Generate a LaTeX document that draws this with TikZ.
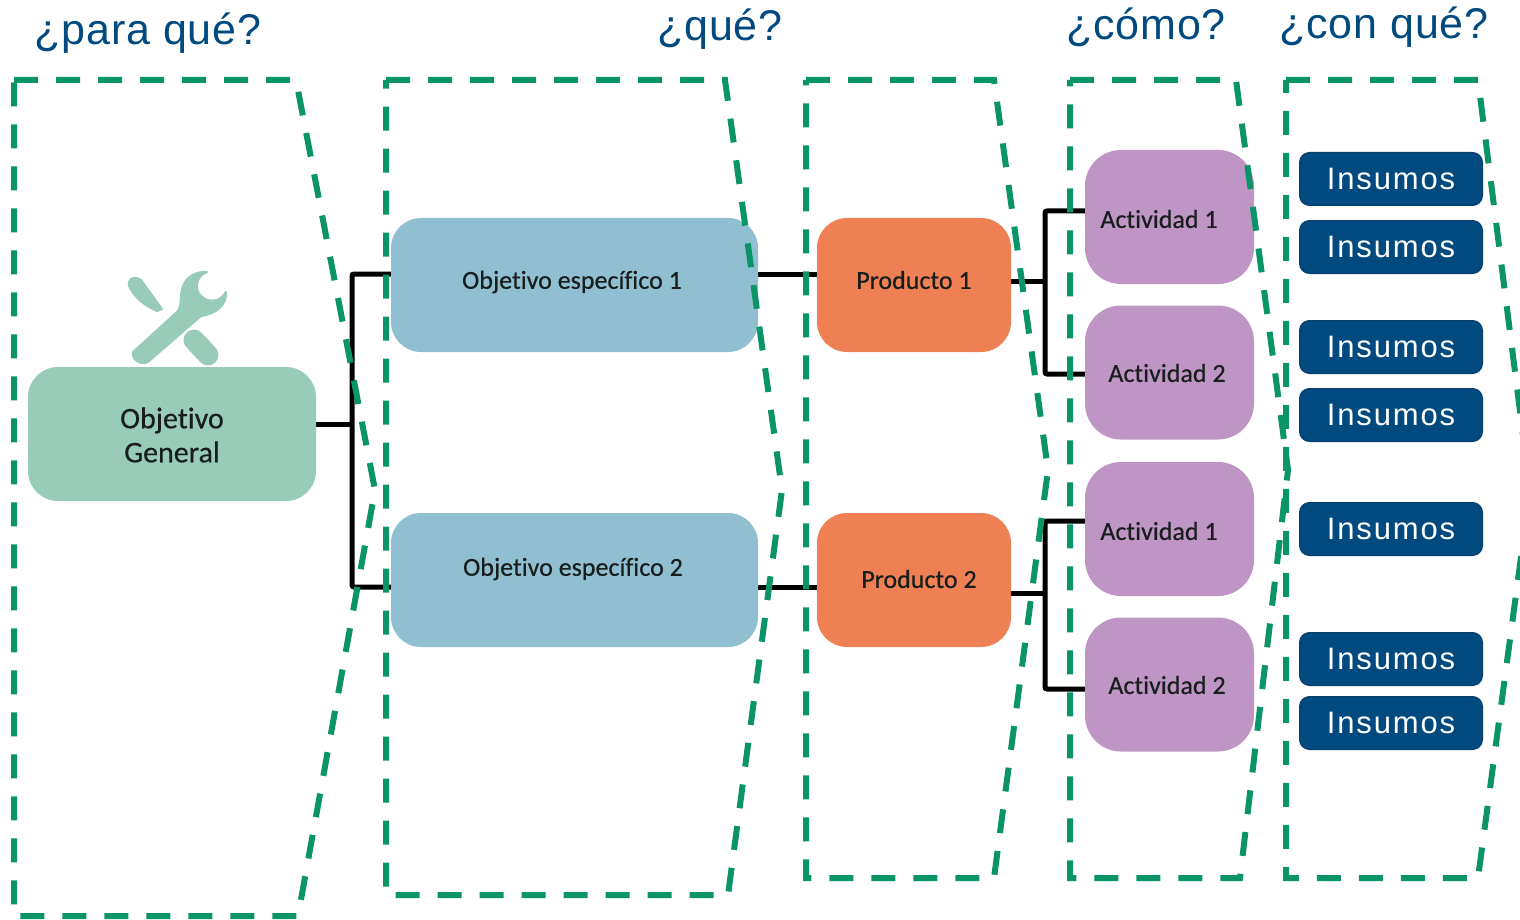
\documentclass[tikz,border=0pt]{standalone}
\usepackage{fontspec}
\setmainfont[Ligatures=NoCommon,FakeBold=0.4]{Carlito}
\newfontfamily\headfont[LetterSpace=2]{Liberation Sans}
\newfontfamily\insfont[LetterSpace=6]{Liberation Sans}
\pgfdeclarelayer{linklayer}
\pgfsetlayers{linklayer,main}
\definecolor{dashgreen}{HTML}{0B9468}
\definecolor{headblue}{HTML}{004A80}
\definecolor{gencol}{HTML}{99CBB9}
\definecolor{objcol}{HTML}{90BFD2}
\definecolor{prodcol}{HTML}{EF8053}
\definecolor{actcol}{HTML}{BF95C5}
\definecolor{inscol}{HTML}{004A80}
\definecolor{insedge}{HTML}{0A3F6B}
\tikzset{
  x=1pt,y=-1pt,
  pane/.style={draw=dashgreen,line width=6pt,dash pattern=on 24pt off 18pt},
  link/.style={draw=black,line width=5pt,rounded corners=2pt},
  nodebox/.style={rectangle,inner sep=0pt,outer sep=0pt},
  genbox/.style={nodebox,fill=gencol,rounded corners=30pt,minimum width=288pt,minimum height=134pt},
  objbox/.style={nodebox,fill=objcol,rounded corners=30pt,minimum width=367pt,minimum height=134pt},
  prodbox/.style={nodebox,fill=prodcol,rounded corners=30pt,minimum width=194pt,minimum height=134pt},
  actbox/.style={nodebox,fill=actcol,rounded corners=36pt,minimum width=169pt,minimum height=134pt},
  insbox/.style={nodebox,fill=inscol,draw=insedge,line width=1pt,rounded corners=10pt,minimum width=183pt,minimum height=53pt,
     text=white,font=\fontsize{31}{36}\selectfont\insfont},
  label/.style={inner sep=0pt,font=\fontsize{26}{34}\selectfont,text=black!85!gencol,align=center},
  head/.style={inner sep=0pt,text=headblue,font=\fontsize{43}{48}\selectfont\headfont},
  tool/.style={fill=gencol,draw=gencol,line width=2pt,line join=round}
}
\begin{document}
\begin{tikzpicture}
\useasboundingbox (0,0) rectangle (1520,920);
% tools icon
\draw[tool] (131,279) .. controls (134,277) and (139,278) .. (141,280) -- (162,309) -- (157,311) .. controls (145,306) and (134,297) .. (129,286) .. controls (128,283) and (129,281) .. (131,279) -- cycle;
\draw[tool] (207,272) .. controls (200,274) and (196,281) .. (197,289) .. controls (199,299) and (216,308) .. (226,292)
  .. controls (227,304) and (217,314) .. (201,316) -- (148,362) .. controls (142,366) and (131,360) .. (133,352) -- (177,312)
  .. controls (182,306) and (180,298) .. (182,289) .. controls (185,277) and (196,271) .. (207,272) -- cycle;
\draw[gencol,line width=21pt,line cap=round] (194,340) -- (208,355);
% nodes
\node[genbox] (gen) at (172,434) {};
\node[objbox] (ob1) at (574.5,285) {};
\node[objbox] (ob2) at (574.5,580) {};
\node[prodbox] (pr1) at (914,285) {};
\node[prodbox] (pr2) at (914,580) {};
\node[actbox] (ac1) at (1169.5,217) {};
\node[actbox] (ac2) at (1169.5,372.5) {};
\node[actbox] (ac3) at (1169.5,529) {};
\node[actbox] (ac4) at (1169.5,684.5) {};
% connectors
\coordinate (j1) at (352,424);
\coordinate (j1t) at (352,274);
\coordinate (j1b) at (352,587);
\coordinate (j2) at (1045,281);
\coordinate (j2t) at (1045,211);
\coordinate (j2b) at (1045,374);
\coordinate (j3) at (1045,593);
\coordinate (j3t) at (1045,521);
\coordinate (j3b) at (1045,689);
\begin{pgfonlayer}{linklayer}
\draw[link] (gen.east |- j1) -- (j1);
\draw[link] (ob1.west |- j1t) -- (j1t) -- (j1b) -- (ob2.west |- j1b);
\draw[link] (ob1.east |- j1t) -- (pr1.west |- j1t);
\draw[link] (ob2.east |- j1b) -- (pr2.west |- j1b);
\draw[link] (pr1.east |- j2) -- (j2);
\draw[link] (ac1.west |- j2t) -- (j2t) -- (j2b) -- (ac2.west |- j2b);
\draw[link] (pr2.east |- j3) -- (j3);
\draw[link] (ac3.west |- j3t) -- (j3t) -- (j3b) -- (ac4.west |- j3b);
\end{pgfonlayer}
% labels
\node[label,font=\fontsize{30}{34}\selectfont] (t0) at (172,435) {Objetivo\\General};
\node[label] (t1) at (572,282) {Objetivo específico 1};
\node[label] (t2) at (573,569) {Objetivo específico 2};
\node[label] (t3) at (914,280) {Producto 1};
\node[label] (t4) at (919,579) {Producto 2};
\node[label] (t5) at (1159,219) {Actividad 1};
\node[label] (t6) at (1167,373) {Actividad 2};
\node[label] (t7) at (1159,531) {Actividad 1};
\node[label] (t8) at (1167,685) {Actividad 2};
% insumos
\node[insbox] (i1) at (1391,179) {\raisebox{-1.5pt}{Insumos}};
\node[insbox] (i2) at (1391,247) {\raisebox{-1.5pt}{Insumos}};
\node[insbox] (i3) at (1391,347) {\raisebox{-1.5pt}{Insumos}};
\node[insbox] (i4) at (1391,415) {\raisebox{-1.5pt}{Insumos}};
\node[insbox] (i5) at (1391,529) {\raisebox{-1.5pt}{Insumos}};
\node[insbox] (i6) at (1391,659) {\raisebox{-1.5pt}{Insumos}};
\node[insbox] (i7) at (1391,723) {\raisebox{-1.5pt}{Insumos}};
% panes
\begin{scope}
\clip (0,0) rectangle (1520,920);
\draw[pane] (14,80) -- (296,80) -- (375,490) -- (298,916) -- (14,916) -- cycle;
\draw[pane] (386,80) -- (725,80) -- (782,490) -- (728,895) -- (386,895) -- cycle;
\draw[pane] (806,80) -- (994,80) -- (1048,470) -- (994,878) -- (806,878) -- cycle;
\draw[pane] (1070,80) -- (1236,80) -- (1288,470) -- (1240,878) -- (1070,878) -- cycle;
\draw[pane] (1286,80) -- (1478,80) -- (1530,490) -- (1478,878) -- (1286,878) -- cycle;
\end{scope}
% headings
\node[head] (h1) at (148,33) {¿para qué?};
\node[head] (h2) at (720,29) {¿qué?};
\node[head] (h3) at (1146,27) {¿cómo?};
\node[head] (h4) at (1384,27) {¿con qué?};
\end{tikzpicture}
\end{document}
